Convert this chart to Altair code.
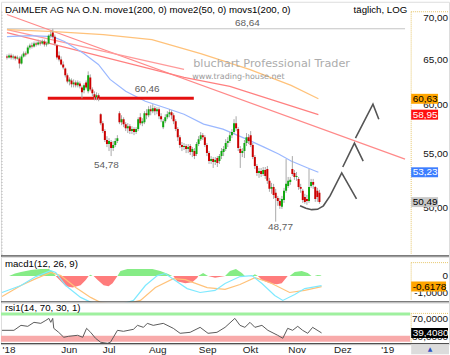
import json
import altair as alt
import pandas as pd

FONT = "Liberation Sans"
W = 450
H_MAIN, H_MACD, H_RSI = 256, 46, 42

# ---------------- daily bars ----------------
bar_open = [
    65.35, 65.23, 65.46, 65.23, 65.35, 65.12, 65.12, 64.55, 65.35, 65.69,
    65.69, 66.39, 66.63, 66.51, 66.86, 66.75, 66.98, 66.86, 67.10, 66.75,
    66.86, 67.81, 68.18, 67.69, 66.63, 65.46, 65.00, 64.43, 63.98, 63.20,
    62.53, 62.64, 62.20, 62.42, 62.09, 62.31, 61.87, 61.55, 62.42, 61.44,
    62.97, 61.65, 61.11, 60.79, 61.01, 58.99, 58.07, 57.26, 56.36, 55.96,
    56.16, 55.56, 55.86, 56.26, 59.10, 58.17, 58.48, 57.97, 57.56, 57.76,
    57.26, 57.46, 57.16, 57.46, 58.68, 58.07, 58.17, 59.10, 58.89, 59.52,
    59.31, 59.62, 59.31, 59.52, 58.78, 57.66, 58.27, 58.68, 58.99, 59.20,
    58.89, 58.27, 57.46, 56.65, 55.86, 55.66, 55.76, 55.47, 55.76, 55.17,
    55.27, 54.98, 55.96, 56.45, 56.85, 56.65, 55.86, 55.07, 54.30, 54.49,
    54.21, 54.59, 54.30, 54.78, 55.17, 55.47, 56.06, 56.26, 56.85, 57.16,
    58.07, 57.46, 55.47, 55.07, 55.27, 56.06, 56.65, 56.85, 55.86, 54.68,
    53.83, 53.17, 53.35, 53.07, 53.45, 53.54, 52.43, 51.69, 51.87, 51.33,
    50.87, 50.60, 50.07, 50.69, 51.51, 51.96, 52.33, 53.54, 53.17, 52.79,
    52.61, 51.87, 51.51, 50.96, 50.78, 50.60, 51.96, 52.33, 51.87, 51.51,
    51.33,
]
bar_high = [
    65.58, 65.69, 65.69, 65.58, 65.46, 65.46, 65.35, 65.58, 65.93, 65.93,
    66.63, 66.86, 66.98, 67.10, 67.10, 67.33, 67.22, 67.33, 67.33, 67.10,
    67.94, 68.30, 68.64, 67.94, 66.75, 65.93, 65.35, 64.78, 64.09, 63.42,
    62.97, 62.86, 62.75, 62.64, 62.64, 62.53, 62.09, 62.31, 62.64, 63.65,
    63.31, 61.87, 61.44, 61.33, 61.22, 59.10, 58.27, 57.46, 56.75, 56.55,
    56.36, 56.26, 56.55, 56.85, 59.31, 58.89, 58.68, 58.17, 58.07, 57.97,
    57.76, 57.66, 57.66, 58.68, 59.10, 58.58, 59.31, 59.52, 59.84, 59.94,
    60.05, 59.84, 59.73, 59.73, 59.10, 58.48, 58.99, 59.31, 59.52, 59.41,
    59.10, 58.48, 57.66, 56.85, 56.16, 56.06, 55.96, 55.96, 55.96, 55.66,
    55.56, 56.16, 56.75, 57.16, 57.06, 56.85, 56.06, 55.27, 54.78, 54.68,
    54.68, 54.78, 54.98, 55.56, 55.76, 56.45, 56.65, 57.16, 57.46, 58.48,
    58.78, 57.66, 55.76, 55.56, 56.36, 57.06, 56.96, 57.26, 56.06, 54.88,
    54.02, 53.64, 53.64, 53.73, 53.73, 53.83, 52.70, 52.24, 52.15, 51.69,
    51.05, 50.87, 51.05, 51.78, 54.49, 52.79, 52.79, 54.78, 53.45, 53.26,
    52.79, 52.15, 51.69, 51.24, 51.14, 53.54, 52.61, 52.61, 51.96, 51.78,
    51.60,
]
bar_low = [
    65.00, 65.12, 65.00, 65.00, 64.89, 65.00, 63.98, 64.43, 65.23, 65.35,
    65.58, 66.16, 66.28, 66.39, 66.51, 66.63, 66.63, 66.75, 66.51, 66.51,
    66.75, 67.57, 67.45, 66.63, 65.00, 64.78, 64.32, 63.87, 62.97, 62.31,
    62.09, 61.87, 61.87, 61.87, 61.87, 61.76, 60.68, 61.22, 61.65, 61.22,
    61.44, 60.90, 60.47, 60.47, 60.37, 57.86, 57.06, 56.16, 55.66, 55.27,
    54.78, 55.27, 55.66, 56.06, 57.97, 57.86, 57.66, 57.26, 57.06, 56.96,
    56.96, 56.85, 56.96, 57.26, 57.86, 57.76, 57.97, 58.48, 58.68, 58.89,
    59.10, 58.89, 58.99, 58.48, 58.17, 57.46, 58.07, 58.48, 58.68, 58.48,
    57.97, 57.26, 56.26, 55.56, 55.27, 55.37, 55.07, 55.07, 54.88, 54.68,
    54.49, 54.78, 55.76, 56.26, 56.36, 55.66, 54.78, 54.02, 54.02, 53.64,
    53.92, 53.73, 54.02, 54.49, 54.78, 55.27, 55.66, 56.06, 56.55, 56.96,
    57.26, 55.27, 53.64, 54.68, 54.59, 55.76, 55.96, 55.66, 54.49, 53.54,
    52.89, 52.70, 52.79, 52.89, 52.61, 52.15, 51.42, 51.24, 50.78, 48.77,
    50.16, 49.89, 49.89, 50.42, 51.33, 51.78, 52.06, 52.89, 52.52, 52.43,
    51.60, 51.33, 50.42, 50.34, 50.25, 50.42, 51.78, 51.69, 50.51, 50.51,
    50.34,
]
bar_close = [
    65.23, 65.46, 65.23, 65.35, 65.12, 65.23, 64.55, 65.35, 65.69, 65.58,
    66.39, 66.63, 66.51, 66.86, 66.75, 66.98, 66.86, 67.10, 66.75, 66.86,
    67.81, 67.94, 67.69, 66.86, 65.23, 65.00, 64.43, 64.09, 63.20, 62.53,
    62.75, 62.20, 62.42, 62.09, 62.42, 61.98, 61.33, 62.09, 61.87, 63.20,
    61.65, 61.22, 60.79, 61.01, 60.68, 58.07, 57.26, 56.36, 55.96, 56.26,
    55.56, 55.86, 56.26, 56.55, 58.17, 58.48, 57.97, 57.56, 57.76, 57.26,
    57.46, 57.16, 57.46, 58.48, 58.07, 58.27, 59.10, 58.89, 59.52, 59.31,
    59.62, 59.31, 59.52, 58.78, 58.48, 58.27, 58.68, 58.99, 59.20, 58.89,
    58.27, 57.46, 56.65, 55.86, 55.66, 55.76, 55.47, 55.66, 55.17, 55.47,
    54.78, 55.96, 56.45, 56.85, 56.65, 55.86, 55.07, 54.30, 54.49, 54.21,
    54.40, 54.11, 54.78, 55.27, 55.47, 56.06, 56.26, 56.85, 57.16, 58.07,
    57.56, 55.56, 55.07, 55.27, 56.06, 56.65, 56.26, 55.86, 54.68, 53.83,
    53.17, 53.35, 53.07, 53.45, 52.89, 52.43, 51.69, 51.87, 51.14, 50.87,
    50.60, 50.16, 50.78, 51.51, 52.15, 52.43, 52.52, 53.07, 52.79, 52.89,
    51.87, 51.69, 50.69, 50.51, 50.60, 51.87, 52.33, 52.06, 50.78, 50.96,
    50.49,
]
bar_idx = list(range(len(bar_close)))

# ---------------- indicator lines in the price panel ----------------
move2_idx = [0, 11.2, 22.0, 27.6, 36.9, 43.9, 49.5, 57.0, 66.4, 76.6, 85.0, 94.4,
             103.7, 115.0, 123.4, 130.4, 136.4, 144.4, 149.5]
move2_val = [67.69, 67.81, 67.69, 67.10, 65.69, 64.43, 62.75, 61.44, 60.37, 59.62, 58.99, 57.97,
             57.46, 56.45, 55.66, 54.98, 54.30, 53.64, 53.23]
move1_idx = [0, 22.9, 46.3, 69.6, 93.0, 116.4, 136.4, 149.5]
move1_val = [68.54, 68.30, 67.94, 67.33, 65.69, 63.87, 62.09, 60.63]
movs1_idx = [0, 85.0, 107.0, 149.5]
movs1_val = [68.18, 62.97, 61.98, 58.95]
trend_a_idx = [0, 85.0]
trend_a_val = [68.54, 63.87]
trend_b_idx = [0, 191.1]
trend_b_val = [70.40, 54.49]
high_idx = [0, 191.1]
high_val = [68.64, 68.64]
support_idx = [19.6, 89.7]
support_val = [60.70, 60.70]

# hand drawn projection arrows
arrow1_idx = [140.7, 143.5, 146.3, 149.1, 151.9, 155.1, 160.7, 167.8]
arrow1_val = [50.16, 49.94, 49.82, 49.85, 50.16, 51.05, 53.17, 50.78]
arrow2_idx = [161.2, 166.8, 171.0]
arrow2_val = [53.73, 56.06, 54.30]
arrow3_idx = [167.3, 175.7, 178.5]
arrow3_val = [56.55, 60.05, 58.48]

# annotations
ann_idx = [115.4, 67.3, 47.7, 131.3]
ann_val = [68.64, 60.70, 54.78, 48.77]
ann_text = ["68,64", "60,46", "54,78", "48,77"]

# right price scale
price_ticks = [70, 65, 60, 55, 50]
price_tick_text = ["70,00", "65,00", "60,00", "55,00", "50,00"]
price_box_val = [60.63, 58.95, 53.23, 50.49]
price_box_text = ["60,63", "58,95", "53,23", "50,49"]
price_box_kind = ["move1", "movs1", "move2", "last"]

# ---------------- MACD ----------------
macd_idx = [0, 8.9, 15.9, 22.9, 25.2, 29.9, 36.9, 44.9, 53.3, 61.7, 67.3, 72.9, 76.6,
            81.3, 86.9, 93.0, 100.0, 104.7, 111.7, 117.3, 122.0, 128.0, 131.8, 137.4, 142.1, 150.0]
macd_val = [-0.97, -0.56, -0.03, 0.32, 0.21, -0.56, -1.26, -1.74, -1.79, -1.44, -0.56, 0.03, 0.15,
            -0.26, -0.74, -0.97, -0.85, -0.44, -0.03, 0.03, -0.44, -1.15, -1.44, -1.09, -0.74, -0.56]
sig_idx = [0, 8.9, 15.9, 22.9, 27.6, 34.6, 41.6, 46.3, 55.6, 65.0, 72.0, 80.4, 86.0, 96.3,
           104.7, 111.7, 118.7, 125.7, 135.0, 142.1, 150.0]
sig_val = [-1.21, -0.56, -0.15, 0.21, 0.03, -0.68, -1.26, -1.56, -1.74, -1.44, -0.68, -0.15, -0.21, -0.68,
           -0.79, -0.50, -0.09, -0.38, -0.97, -0.85, -0.62]
hist_idx = [3.3, 6.1, 8.9, 13.6, 18.2, 22.0, 23.8, 25.2, 27.6, 29.9, 33.2, 36.9, 39.3, 40.7, 41.6,
            42.5, 43.0, 44.9, 47.7, 50.0, 51.9, 54.2, 55.6, 58.9, 65.0, 70.6, 74.3, 78.0, 79.9, 80.4,
            82.2, 86.0, 89.3, 91.6, 92.1, 94.4, 96.7, 100.0, 104.7, 107.0, 109.8, 112.6, 114.0, 117.3,
            118.7, 120.1, 122.0, 125.7, 129.0, 131.3, 134.1, 135.0, 137.4, 140.7, 143.5, 145.3, 146.7,
            148.1, 149.5, 150.0]
hist_val = [0, 0.15, 0.24, 0.36, 0.42, 0.42, 0.25, 0, -0.30, -0.60, -0.67, -0.55, -0.24, 0, 0.08,
            0, 0, -0.24, -0.55, -0.60, -0.42, 0, 0.30, 0.42, 0.42, 0.42, 0.30, 0.12, 0, 0,
            -0.30, -0.42, -0.36, -0.12, 0, 0.18, 0, -0.10, 0, 0.30, 0.42, 0.18, 0, 0,
            0.10, 0, -0.24, -0.42, -0.48, -0.42, 0, 0, 0.24, 0.30, 0.18, 0, 0,
            0.06, 0.05, 0]
macd_ticks = [0, -1]
macd_tick_text = ["0", "-1,0000"]
macd_box_val = [-0.6178]
macd_box_text = ["-0,6178"]

# ---------------- RSI ----------------
rsi_idx = [0, 5.6, 8.9, 12.1, 15.0, 18.2, 20.6, 22.0, 22.9, 23.8, 24.3, 26.6, 29.0, 31.3, 35.5,
           37.9, 39.7, 41.6, 43.9, 46.3, 49.5, 50.9, 54.2, 57.0, 61.7, 63.6, 66.4, 68.2, 71.0, 75.7,
           80.4, 83.6, 88.3, 93.0, 96.7, 100.9, 104.7, 109.3, 111.7, 114.0, 116.4, 118.7, 122.0,
           124.8, 129.4, 131.8, 134.1, 136.4, 138.8, 141.1, 143.5, 145.8, 150.0]
rsi_val = [43.6, 43.6, 51.6, 50.0, 56.4, 54.8, 59.6, 62.8, 56.4, 62.8, 46.8, 40.4, 32.4, 34.0, 35.6,
           32.4, 46.8, 40.4, 30.8, 24.4, 22.8, 24.4, 43.6, 42.0, 45.2, 51.6, 48.4, 54.8, 51.6, 54.8,
           46.8, 38.8, 40.4, 48.4, 38.8, 40.4, 48.4, 62.8, 51.6, 48.4, 56.4, 48.4, 51.6,
           43.6, 35.6, 30.8, 46.8, 43.6, 50.0, 43.6, 38.8, 48.4, 39.4]
rsi_levels = [70, 30]
rsi_ticks = [70, 30]
rsi_tick_text = ["70,0000", "30,0000"]
rsi_box_val = [39.408]
rsi_box_text = ["39,4080"]

# time axis
x_tick_pos = [0, 31.3, 50.0, 72.9, 96.3, 116.4, 138.3, 159.8, 180.8]
x_tick_text = ["'18", "Jun", "Jul", "Aug", "Sep", "Okt", "Nov", "Dez", "'19"]

# ---------------- styles ----------------
UP, DOWN, WICK = "#10a810", "#cc0000", "#a8a8a8"
BOX_FILL = {"move1": "#ffa500", "movs1": "#ff1010", "move2": "#3d7eff", "last": "#c8c8c8",
            "macd": "#ffa500", "rsi": "#000000"}
BOX_INK = {"move1": "#000000", "movs1": "#ffffff", "move2": "#ffffff", "last": "#000000",
           "macd": "#000000", "rsi": "#ffffff"}
FRAME = "#e6c66a"
RSI_PX_PER_UNIT = 0.625

XS = alt.Scale(domain=[-0.47, 209.81], nice=False, zero=False)
YP = alt.Scale(type="log", domain=[45.84, 72.0], nice=False, zero=False)
YM = alt.Scale(domain=[-1.559, 1.147], nice=False, zero=False)
YR = alt.Scale(domain=[21.2, 88.4], nice=False, zero=False)

x_expr = " : ".join(f"datum.value == {v} ? {json.dumps(t)}" for v, t in zip(x_tick_pos, x_tick_text)) + " : ''"
X_AXIS = alt.Axis(values=x_tick_pos, labelExpr=x_expr, ticks=False, domain=False, grid=False,
                  title=None, labelFont=FONT, labelFontSize=10, labelColor="#222",
                  labelPadding=0, labelFlush=3, labelOverlap=False)

ONE = pd.DataFrame({"k": [0]})


def xq(axis=None):
    return alt.X("i:Q", scale=XS, axis=axis)


def line_layer(idx, val, yscale, color, width=1.0, axis=None, dash=None):
    df = pd.DataFrame({"i": idx, "v": val})
    kw = dict(color=color, strokeWidth=width, clip=True)
    if dash is not None:
        kw["strokeDash"] = dash
    return alt.Chart(df).mark_line(**kw).encode(
        x=xq(axis), y=alt.Y("v:Q", scale=yscale, axis=None))


def vline(x, y1, y2, color, width=1.0, dash=None):
    kw = dict(color=color, strokeWidth=width)
    if dash is not None:
        kw["strokeDash"] = dash
    return alt.Chart(ONE).mark_rule(**kw).encode(x=alt.value(x), y=alt.value(y1), y2=alt.value(y2))


def hline(y, x1, x2, color, width=1.0, dash=None):
    kw = dict(color=color, strokeWidth=width)
    if dash is not None:
        kw["strokeDash"] = dash
    return alt.Chart(ONE).mark_rule(**kw).encode(y=alt.value(y), x=alt.value(x1), x2=alt.value(x2))


def sep_bar(y1, y2):
    return alt.Chart(ONE).mark_rect(color="#505050").encode(
        x=alt.value(0), x2=alt.value(W), y=alt.value(y1), y2=alt.value(y2))


def text_at(s, x, y, size=9.6, color="#000000", align="left", font=FONT):
    return alt.Chart(pd.DataFrame({"t": [s]})).mark_text(
        align=align, baseline="middle", fontSize=size, font=font, color=color
    ).encode(x=alt.value(x), y=alt.value(y), text="t:N")


def right_labels(vals, texts, yscale, dy=0):
    df = pd.DataFrame({"v": vals, "t": texts})
    return alt.Chart(df).mark_text(
        align="right", baseline="middle", fontSize=10, font=FONT, color="#111111", dy=dy
    ).encode(x=alt.value(449), y=alt.Y("v:Q", scale=yscale, axis=None), text="t:N")


def value_boxes(vals, texts, kinds, yscale, width):
    df = pd.DataFrame({"v": vals, "t": texts})
    df["fill"] = [BOX_FILL[k] for k in kinds]
    df["ink"] = [BOX_INK[k] for k in kinds]
    half = 5.0 / (width / 2.0)
    shape = f"M-1,-{half:.4f}H1V{half:.4f}H-1Z"
    box = alt.Chart(df).mark_point(shape=shape, size=width * width, filled=True, opacity=1,
                                   strokeWidth=0).encode(
        x=alt.value(412 + width / 2.0), y=alt.Y("v:Q", scale=yscale, axis=None),
        color=alt.Color("fill:N", scale=None))
    txt = alt.Chart(df).mark_text(align="left", baseline="middle", fontSize=10, font=FONT).encode(
        x=alt.value(413.5), y=alt.Y("v:Q", scale=yscale, axis=None), text="t:N",
        color=alt.Color("ink:N", scale=None))
    return [box, txt]


# ---------------- price panel ----------------
bars = pd.DataFrame({"i": bar_idx, "o": bar_open, "h": bar_high, "l": bar_low, "c": bar_close})
wicks = alt.Chart(bars).mark_rule(color=WICK, strokeWidth=1, clip=True).encode(
    x=xq(), y=alt.Y("l:Q", scale=YP, axis=None), y2="h:Q")
bodies = alt.Chart(bars).mark_bar(size=2, clip=True).encode(
    x=xq(), y=alt.Y("o:Q", scale=YP, axis=None), y2="c:Q",
    color=alt.condition("datum.c >= datum.o", alt.value(UP), alt.value(DOWN)))

ann_layers = []
for i, v, t, dy in zip(ann_idx, ann_val, ann_text, [-5.5, -9.5, 9, 5.5]):
    df = pd.DataFrame({"i": [i], "v": [v], "t": [t]})
    ann_layers.append(alt.Chart(df).mark_text(fontSize=10, font=FONT, color="#606060", dy=dy).encode(
        x=xq(), y=alt.Y("v:Q", scale=YP, axis=None), text="t:N"))

main = alt.layer(
    vline(1, 10, 254, "#b0b0b0", 1, [1, 2]),
    line_layer(high_idx, high_val, YP, "#c4c4c4", 1.2),
    line_layer(trend_b_idx, trend_b_val, YP, "#ff8a8a", 1.2),
    line_layer(trend_a_idx, trend_a_val, YP, "#ff9a9a", 1.2),
    line_layer(movs1_idx, movs1_val, YP, "#ff8080", 1.2),
    line_layer(move1_idx, move1_val, YP, "#ffc27a", 1.2),
    line_layer(move2_idx, move2_val, YP, "#9bb8ff", 1.2),
    line_layer(support_idx, support_val, YP, "#e41010", 3),
    wicks,
    bodies,
    line_layer(arrow1_idx, arrow1_val, YP, "#555555", 1.6),
    line_layer(arrow2_idx, arrow2_val, YP, "#555555", 1.6),
    line_layer(arrow3_idx, arrow3_val, YP, "#555555", 1.6),
    text_at("bluchart Professional Trader", 193, 63, 11.3, "#acacac", font="DejaVu Sans"),
    text_at("www.trading-house.net", 192, 76, 8, "#9a9a9a", font="DejaVu Sans"),
    text_at("DAIMLER AG NA O.N. move1(200, 0) move2(50, 0) movs1(200, 0)", 4, 8, 9.7),
    text_at("täglich, LOG", 408, 8, 9.7, align="right"),
    *ann_layers,
    vline(412, 10, 254, FRAME, 1, [1, 1]),
    hline(10, 412, 449, FRAME, 1, [1, 1]),
    right_labels(price_ticks, price_tick_text, YP),
    *value_boxes(price_box_val, price_box_text, price_box_kind, YP, 27),
    sep_bar(254.7, 256),
).properties(width=W, height=H_MAIN)

# ---------------- MACD panel ----------------
hist = pd.DataFrame({"i": hist_idx, "v": hist_val})
hist["pos"] = hist["v"].clip(lower=0)
hist["neg"] = hist["v"].clip(upper=0)
hist["base"] = 0.0
hist_pos = alt.Chart(hist).mark_area(color="#86ec86", clip=True).encode(
    x=xq(), y=alt.Y("pos:Q", scale=YM, axis=None), y2="base:Q")
hist_neg = alt.Chart(hist).mark_area(color="#ff7c7c", clip=True).encode(
    x=xq(), y=alt.Y("neg:Q", scale=YM, axis=None), y2="base:Q")

macd = alt.layer(
    hist_pos,
    hist_neg,
    line_layer(sig_idx, sig_val, YM, "#ffc27a", 1.2),
    line_layer(macd_idx, macd_val, YM, "#7fe9ff", 1.2),
    text_at("macd1(12, 26, 9)", 4, 7, 9.7),
    vline(412, 6, 44, FRAME, 1, [1, 1]),
    hline(6, 412, 449, FRAME, 1, [1, 1]),
    right_labels(macd_ticks, macd_tick_text, YM),
    *value_boxes(macd_box_val, macd_box_text, ["macd"], YM, 35),
    sep_bar(44.7, 46),
).properties(width=W, height=H_MACD)

# ---------------- RSI panel ----------------
half_hi = 1.5 / RSI_PX_PER_UNIT
half_lo = 3.0 / RSI_PX_PER_UNIT
bands = pd.DataFrame({"lv": rsi_levels})
bands_hi = bands.iloc[:1].assign(a=lambda d: d.lv - half_hi, b=lambda d: d.lv + half_hi)
bands_lo = bands.iloc[1:].assign(a=lambda d: d.lv - half_lo, b=lambda d: d.lv + half_lo)
band_hi = alt.Chart(bands_hi).mark_rect(color="#9ff09f").encode(
    y=alt.Y("a:Q", scale=YR, axis=None), y2="b:Q", x=alt.value(0), x2=alt.value(411))
band_lo = alt.Chart(bands_lo).mark_rect(color="#f8aaaa").encode(
    y=alt.Y("a:Q", scale=YR, axis=None), y2="b:Q", x=alt.value(0), x2=alt.value(411))

rsi = alt.layer(
    band_hi,
    band_lo,
    line_layer(rsi_idx, rsi_val, YR, "#5a5a5a", 1.0, axis=X_AXIS),
    text_at("rsi1(14, 70, 30, 1)", 4, 6, 9.7),
    vline(412, 11, 40, FRAME, 1, [1, 1]),
    hline(11, 412, 449, FRAME, 1, [1, 1]),
    right_labels(rsi_ticks[:1], rsi_tick_text[:1], YR, dy=5),
    right_labels(rsi_ticks[1:], rsi_tick_text[1:], YR, dy=-2),
    *value_boxes(rsi_box_val, rsi_box_text, ["rsi"], YR, 37),
    sep_bar(40.7, 42),
    alt.Chart(ONE).mark_rect(color="#dcdcdc").encode(
        x=alt.value(412), x2=alt.value(W), y=alt.value(42), y2=alt.value(52)),
    text_at("▲", 431, 47, 6, "#3050c0", align="center", font="DejaVu Sans"),
).properties(width=W, height=H_RSI)

chart = alt.vconcat(main, macd, rsi, spacing=0, bounds="flush").resolve_scale(
    x="independent", y="independent", color="independent"
).properties(padding=0, background="white").configure_view(stroke=None).configure(font=FONT)

chart.save("out.html", embed_options={"renderer": "svg", "actions": False})
